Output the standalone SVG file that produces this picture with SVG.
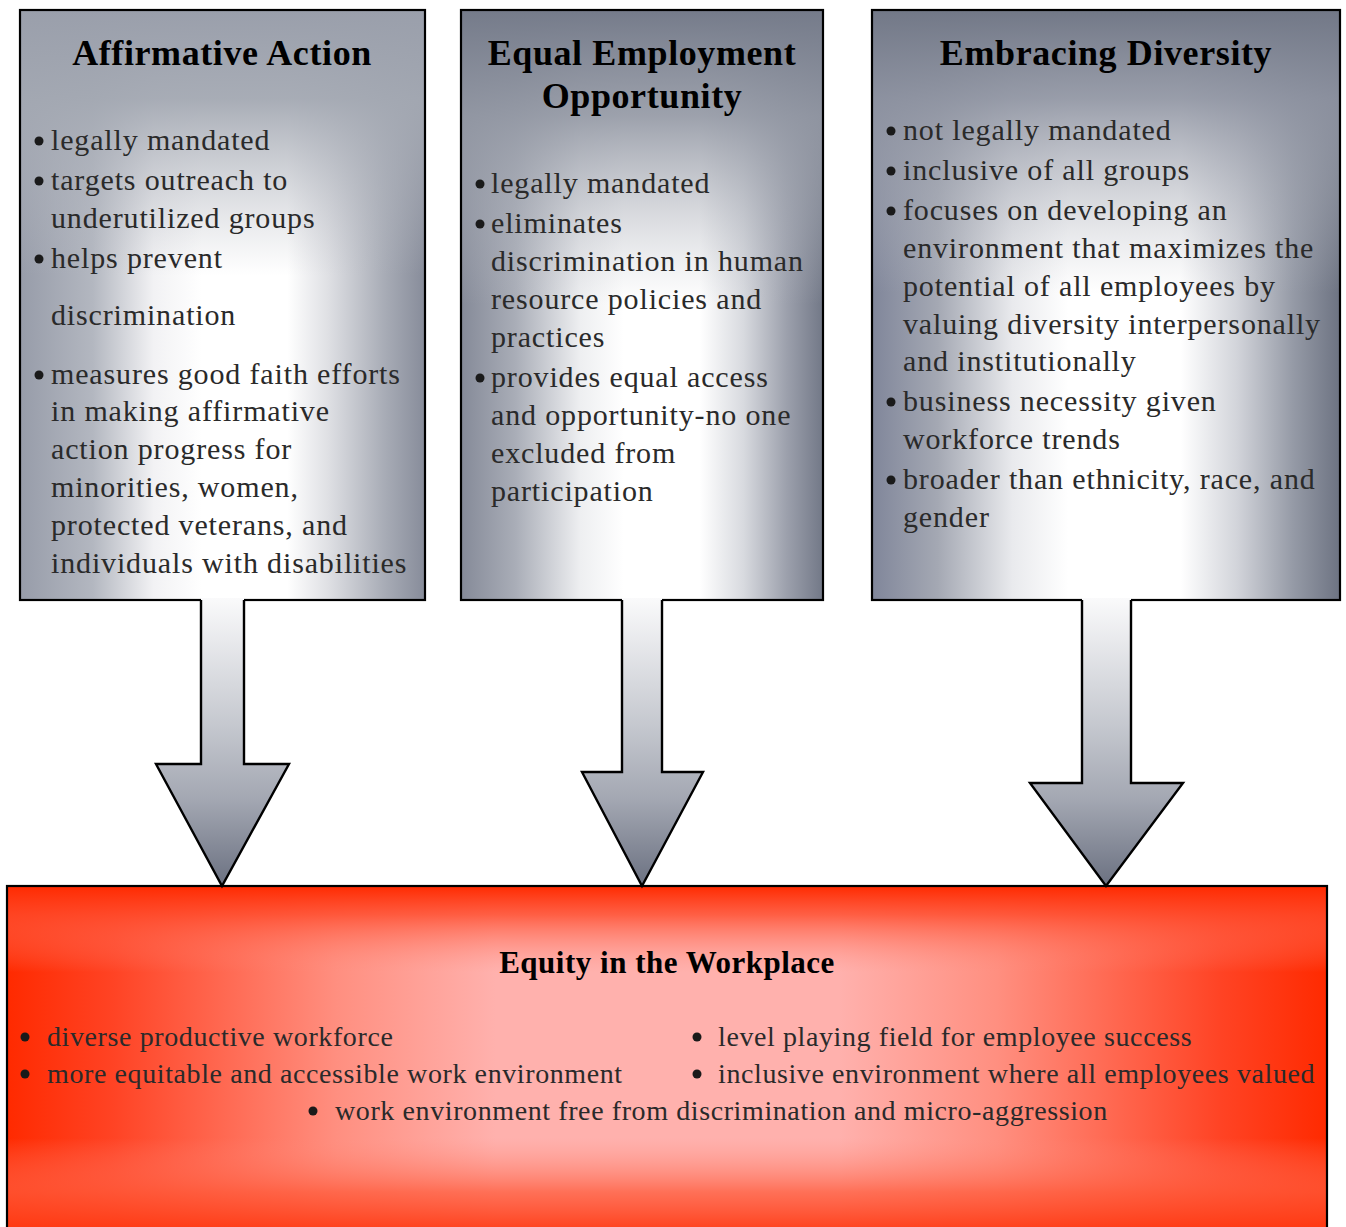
<svg xmlns="http://www.w3.org/2000/svg" width="1346" height="1227" viewBox="0 0 1346 1227">
<style>
.box{stroke:#000;stroke-width:2.2}
.title{font-family:"Liberation Serif","Times New Roman",serif;font-weight:bold;font-size:36px;letter-spacing:0.6px;fill:#000;text-anchor:middle}
.item{font-family:"Liberation Serif","Times New Roman",serif;font-size:30px;letter-spacing:0.85px;fill:#2a2a2a}
.bitem{font-family:"Liberation Serif","Times New Roman",serif;font-size:28px;letter-spacing:0.6px;fill:#2a2a2a}
.btitle{font-family:"Liberation Serif","Times New Roman",serif;font-weight:bold;font-size:31px;letter-spacing:0.5px;fill:#000;text-anchor:middle}
.dot{fill:#1a1a1a}
.arrowline{fill:none;stroke:#000;stroke-width:2.4;stroke-linejoin:miter}
</style>
<defs>
<linearGradient id="gh1" x1="0" y1="0" x2="1" y2="0">
<stop offset="0" stop-color="#979ca9"/>
<stop offset="0.18" stop-color="#b3b7c0"/>
<stop offset="0.33" stop-color="#f2f2f4"/>
<stop offset="0.45" stop-color="#ffffff"/>
<stop offset="0.66" stop-color="#ffffff"/>
<stop offset="0.76" stop-color="#dfe0e4"/>
<stop offset="0.9" stop-color="#a8acb6"/>
<stop offset="1" stop-color="#878c9a"/>
</linearGradient>
<linearGradient id="gh2" x1="0" y1="0" x2="1" y2="0">
<stop offset="0" stop-color="#858a98"/>
<stop offset="0.15" stop-color="#a9adb7"/>
<stop offset="0.33" stop-color="#eeeff1"/>
<stop offset="0.45" stop-color="#ffffff"/>
<stop offset="0.66" stop-color="#ffffff"/>
<stop offset="0.78" stop-color="#d8dadf"/>
<stop offset="0.9" stop-color="#9ca0ac"/>
<stop offset="1" stop-color="#727887"/>
</linearGradient>
<linearGradient id="gh3" x1="0" y1="0" x2="1" y2="0">
<stop offset="0" stop-color="#80869a"/>
<stop offset="0.14" stop-color="#a4a8b3"/>
<stop offset="0.3" stop-color="#e9eaed"/>
<stop offset="0.42" stop-color="#ffffff"/>
<stop offset="0.66" stop-color="#ffffff"/>
<stop offset="0.78" stop-color="#d2d4da"/>
<stop offset="0.9" stop-color="#959aa6"/>
<stop offset="1" stop-color="#6d7382"/>
</linearGradient>
<linearGradient id="gv1" x1="0" y1="0" x2="0" y2="1">
<stop offset="0" stop-color="#9a9fab" stop-opacity="1"/>
<stop offset="0.15" stop-color="#a3a8b2" stop-opacity="0.95"/>
<stop offset="0.45" stop-color="#b7bac2" stop-opacity="0"/>
<stop offset="1" stop-color="#b7bac2" stop-opacity="0"/>
</linearGradient>
<linearGradient id="gv2" x1="0" y1="0" x2="0" y2="1">
<stop offset="0" stop-color="#757b8a" stop-opacity="1"/>
<stop offset="0.18" stop-color="#9297a3" stop-opacity="0.9"/>
<stop offset="0.5" stop-color="#b7bac2" stop-opacity="0"/>
<stop offset="1" stop-color="#b7bac2" stop-opacity="0"/>
</linearGradient>
<linearGradient id="gv3" x1="0" y1="0" x2="0" y2="1">
<stop offset="0" stop-color="#727887" stop-opacity="1"/>
<stop offset="0.15" stop-color="#8d92a0" stop-opacity="0.9"/>
<stop offset="0.48" stop-color="#b7bac2" stop-opacity="0"/>
<stop offset="1" stop-color="#b7bac2" stop-opacity="0"/>
</linearGradient>
<linearGradient id="rh" x1="0" y1="0" x2="1" y2="0">
<stop offset="0" stop-color="#ff2a00"/>
<stop offset="0.08" stop-color="#ff4324"/>
<stop offset="0.25" stop-color="#ff8f80"/>
<stop offset="0.37" stop-color="#ffb1ad"/>
<stop offset="0.63" stop-color="#ffb1ad"/>
<stop offset="0.75" stop-color="#ff8f80"/>
<stop offset="0.92" stop-color="#ff4324"/>
<stop offset="1" stop-color="#ff2a00"/>
</linearGradient>
<linearGradient id="rv" x1="0" y1="0" x2="0" y2="1">
<stop offset="0" stop-color="#ff2a00" stop-opacity="1"/>
<stop offset="0.08" stop-color="#ff4a2a" stop-opacity="0.8"/>
<stop offset="0.24" stop-color="#ff8f80" stop-opacity="0"/>
<stop offset="0.7" stop-color="#ff8f80" stop-opacity="0"/>
<stop offset="0.85" stop-color="#ff5a3a" stop-opacity="0.75"/>
<stop offset="1" stop-color="#ff2a00" stop-opacity="1"/>
</linearGradient>
<linearGradient id="ga" x1="0" y1="0" x2="0" y2="1">
<stop offset="0" stop-color="#fafafb"/>
<stop offset="0.45" stop-color="#c4c7ce"/>
<stop offset="0.7" stop-color="#a3a7b2"/>
<stop offset="1" stop-color="#6b7181"/>
</linearGradient>
</defs>

<g id="node-affirmative">
<rect x="20" y="10" width="405" height="590" fill="url(#gh1)"/>
<rect x="20" y="10" width="405" height="590" fill="url(#gv1)"/>
<rect class="box" x="20" y="10" width="405" height="590" fill="none"/>
<text class="title" x="222" y="65">Affirmative Action</text>
<circle class="dot" cx="39" cy="141" r="4.5"/>
<text class="item" x="51" y="150">legally mandated</text>
<circle class="dot" cx="39" cy="181" r="4.5"/>
<text class="item" x="51" y="190">targets outreach to</text>
<text class="item" x="51" y="228">underutilized groups</text>
<circle class="dot" cx="39" cy="259" r="4.5"/>
<text class="item" x="51" y="268">helps prevent</text>
<text class="item" x="51" y="325">discrimination</text>
<circle class="dot" cx="39" cy="375" r="4.5"/>
<text class="item" x="51" y="384">measures good faith efforts</text>
<text class="item" x="51" y="421">in making affirmative</text>
<text class="item" x="51" y="459">action progress for</text>
<text class="item" x="51" y="497">minorities, women,</text>
<text class="item" x="51" y="535">protected veterans, and</text>
<text class="item" x="51" y="573">individuals with disabilities</text>
</g>

<g id="node-eeo">
<rect x="461" y="10" width="362" height="590" fill="url(#gh2)"/>
<rect x="461" y="10" width="362" height="590" fill="url(#gv2)"/>
<rect class="box" x="461" y="10" width="362" height="590" fill="none"/>
<text class="title" x="642" y="65">Equal Employment</text>
<text class="title" x="642" y="108">Opportunity</text>
<circle class="dot" cx="480" cy="184" r="4.5"/>
<text class="item" x="491" y="193">legally mandated</text>
<circle class="dot" cx="480" cy="224" r="4.5"/>
<text class="item" x="491" y="233">eliminates</text>
<text class="item" x="491" y="271">discrimination in human</text>
<text class="item" x="491" y="309">resource policies and</text>
<text class="item" x="491" y="347">practices</text>
<circle class="dot" cx="480" cy="378" r="4.5"/>
<text class="item" x="491" y="387">provides equal access</text>
<text class="item" x="491" y="425">and opportunity-no one</text>
<text class="item" x="491" y="463">excluded from</text>
<text class="item" x="491" y="501">participation</text>
</g>

<g id="node-diversity">
<rect x="872" y="10" width="468" height="590" fill="url(#gh3)"/>
<rect x="872" y="10" width="468" height="590" fill="url(#gv3)"/>
<rect class="box" x="872" y="10" width="468" height="590" fill="none"/>
<text class="title" x="1106" y="65">Embracing Diversity</text>
<circle class="dot" cx="891" cy="131" r="4.5"/>
<text class="item" x="903" y="140">not legally mandated</text>
<circle class="dot" cx="891" cy="171" r="4.5"/>
<text class="item" x="903" y="180">inclusive of all groups</text>
<circle class="dot" cx="891" cy="211" r="4.5"/>
<text class="item" x="903" y="220">focuses on developing an</text>
<text class="item" x="903" y="258">environment that maximizes the</text>
<text class="item" x="903" y="296">potential of all employees by</text>
<text class="item" x="903" y="334">valuing diversity interpersonally</text>
<text class="item" x="903" y="371">and institutionally</text>
<circle class="dot" cx="891" cy="402" r="4.5"/>
<text class="item" x="903" y="411">business necessity given</text>
<text class="item" x="903" y="449">workforce trends</text>
<circle class="dot" cx="891" cy="480" r="4.5"/>
<text class="item" x="903" y="489">broader than ethnicity, race, and</text>
<text class="item" x="903" y="527">gender</text>
</g>

<g id="node-equity">
<rect x="7" y="886" width="1320" height="360" fill="url(#rh)"/>
<rect x="7" y="886" width="1320" height="360" fill="url(#rv)"/>
<rect class="box" x="7" y="886" width="1320" height="360" fill="none"/>
<text class="btitle" x="667" y="973">Equity in the Workplace</text>
<circle class="dot" cx="25" cy="1037" r="4.5"/>
<text class="bitem" x="47" y="1046">diverse productive workforce</text>
<circle class="dot" cx="25" cy="1074" r="4.5"/>
<text class="bitem" x="47" y="1083">more equitable and accessible work environment</text>
<circle class="dot" cx="697" cy="1037" r="4.5"/>
<text class="bitem" x="718" y="1046">level playing field for employee success</text>
<circle class="dot" cx="697" cy="1074" r="4.5"/>
<text class="bitem" x="718" y="1083">inclusive environment where all employees valued</text>
<circle class="dot" cx="313" cy="1111" r="4.5"/>
<text class="bitem" x="335" y="1120">work environment free from discrimination and micro-aggression</text>
</g>

<g id="connectors">
<path d="M201,598 V764 H156 L222,886 L289,764 H244 V598 Z" fill="url(#ga)"/>
<path class="arrowline" d="M201,600 V764 H156 L222,886 L289,764 H244 V600"/>
<path d="M622,598 V772 H582 L642,886 L703,772 H662 V598 Z" fill="url(#ga)"/>
<path class="arrowline" d="M622,600 V772 H582 L642,886 L703,772 H662 V600"/>
<path d="M1082,598 V783 H1030 L1106,886 L1183,783 H1131 V598 Z" fill="url(#ga)"/>
<path class="arrowline" d="M1082,600 V783 H1030 L1106,886 L1183,783 H1131 V600"/>
</g>
</svg>
